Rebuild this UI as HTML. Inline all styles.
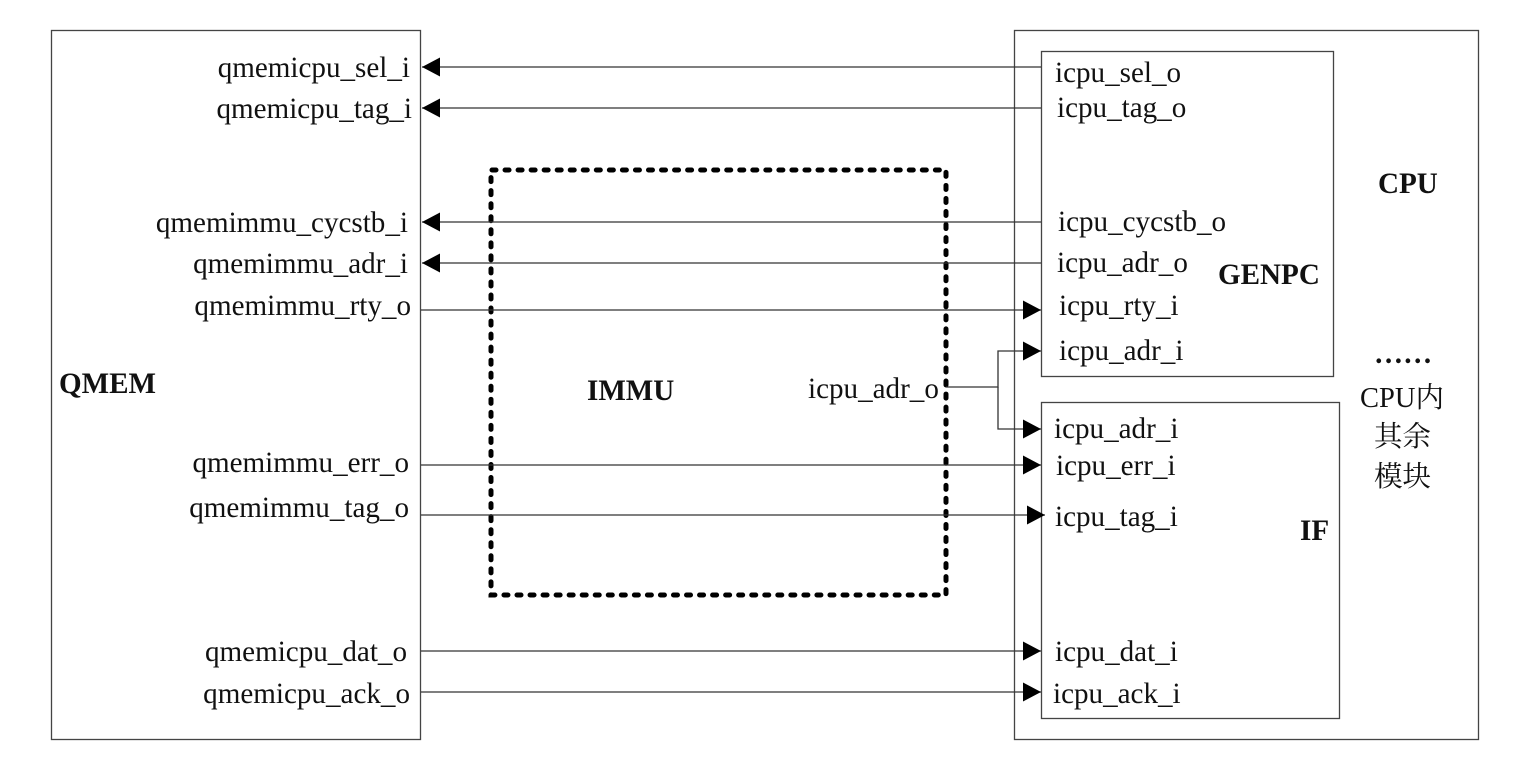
<!DOCTYPE html>
<html><head><meta charset="utf-8"><style>html,body{margin:0;padding:0;background:#fff;width:1536px;height:758px;overflow:hidden}svg{display:block}text{font-family:"Liberation Serif","Noto Serif CJK SC",serif;font-size:29.1px;fill:#111}.b{font-weight:bold}.c{font-size:28.5px}</style></head><body>
<svg width="1536" height="758" viewBox="0 0 1536 758">
<defs><marker id="a" markerWidth="20" markerHeight="20" refX="18" refY="9.5" orient="auto-start-reverse" markerUnits="userSpaceOnUse"><path d="M0 0L18 9.5L0 19Z" fill="#000"/></marker></defs>
<g fill="none" stroke="#444" stroke-width="1.3">
<rect x="51.5" y="30.5" width="369" height="709"/>
<rect x="1014.5" y="30.5" width="464" height="709"/>
<rect x="1041.5" y="51.5" width="292" height="325"/>
<rect x="1041.5" y="402.5" width="298" height="316"/>
</g>
<rect x="491" y="170" width="455" height="425" fill="none" stroke="#000" stroke-width="5" stroke-linecap="round" stroke-dasharray="4 9.04" stroke-dashoffset="-1"/>
<g stroke="#333" stroke-width="1.3" fill="none">
<path d="M1041 67H422" marker-end="url(#a)"/>
<path d="M1041 108H422" marker-end="url(#a)"/>
<path d="M1041 222H422" marker-end="url(#a)"/>
<path d="M1041 263H422" marker-end="url(#a)"/>
<path d="M421 310H1041" marker-end="url(#a)"/>
<path d="M421 465H1041" marker-end="url(#a)"/>
<path d="M421 515H1045" marker-end="url(#a)"/>
<path d="M421 651H1041" marker-end="url(#a)"/>
<path d="M421 692H1041" marker-end="url(#a)"/>
<path d="M946 387H998V351H1041" marker-end="url(#a)"/>
<path d="M998 387V429H1041" marker-end="url(#a)"/>
</g>
<g text-anchor="end">
<text x="410" y="77">qmemicpu_sel_i</text>
<text x="412" y="118">qmemicpu_tag_i</text>
<text x="408" y="232">qmemimmu_cycstb_i</text>
<text x="408" y="273">qmemimmu_adr_i</text>
<text x="411" y="315">qmemimmu_rty_o</text>
<text x="409" y="472">qmemimmu_err_o</text>
<text x="409" y="517">qmemimmu_tag_o</text>
<text x="407" y="661">qmemicpu_dat_o</text>
<text x="410" y="703">qmemicpu_ack_o</text>
</g>
<text x="1055" y="82">icpu_sel_o</text>
<text x="1057" y="117">icpu_tag_o</text>
<text x="1058" y="231">icpu_cycstb_o</text>
<text x="1057" y="272">icpu_adr_o</text>
<text x="1059" y="315">icpu_rty_i</text>
<text x="1059" y="360">icpu_adr_i</text>
<text x="1054" y="438">icpu_adr_i</text>
<text x="1056" y="475">icpu_err_i</text>
<text x="1055" y="526">icpu_tag_i</text>
<text x="1055" y="661">icpu_dat_i</text>
<text x="1053" y="703">icpu_ack_i</text>
<text x="808" y="398">icpu_adr_o</text>
<text class="b" x="59" y="393">QMEM</text>
<text class="b" x="587" y="400">IMMU</text>
<text class="b" x="1218" y="284">GENPC</text>
<text class="b" x="1300" y="540">IF</text>
<text class="b" x="1378" y="193">CPU</text>
<text class="b" x="1374" y="363">……</text>
<text class="c" x="1360" y="407">CPU内</text>
<text class="c" x="1374" y="446">其余</text>
<text class="c" x="1374" y="486">模块</text>
</svg></body></html>
